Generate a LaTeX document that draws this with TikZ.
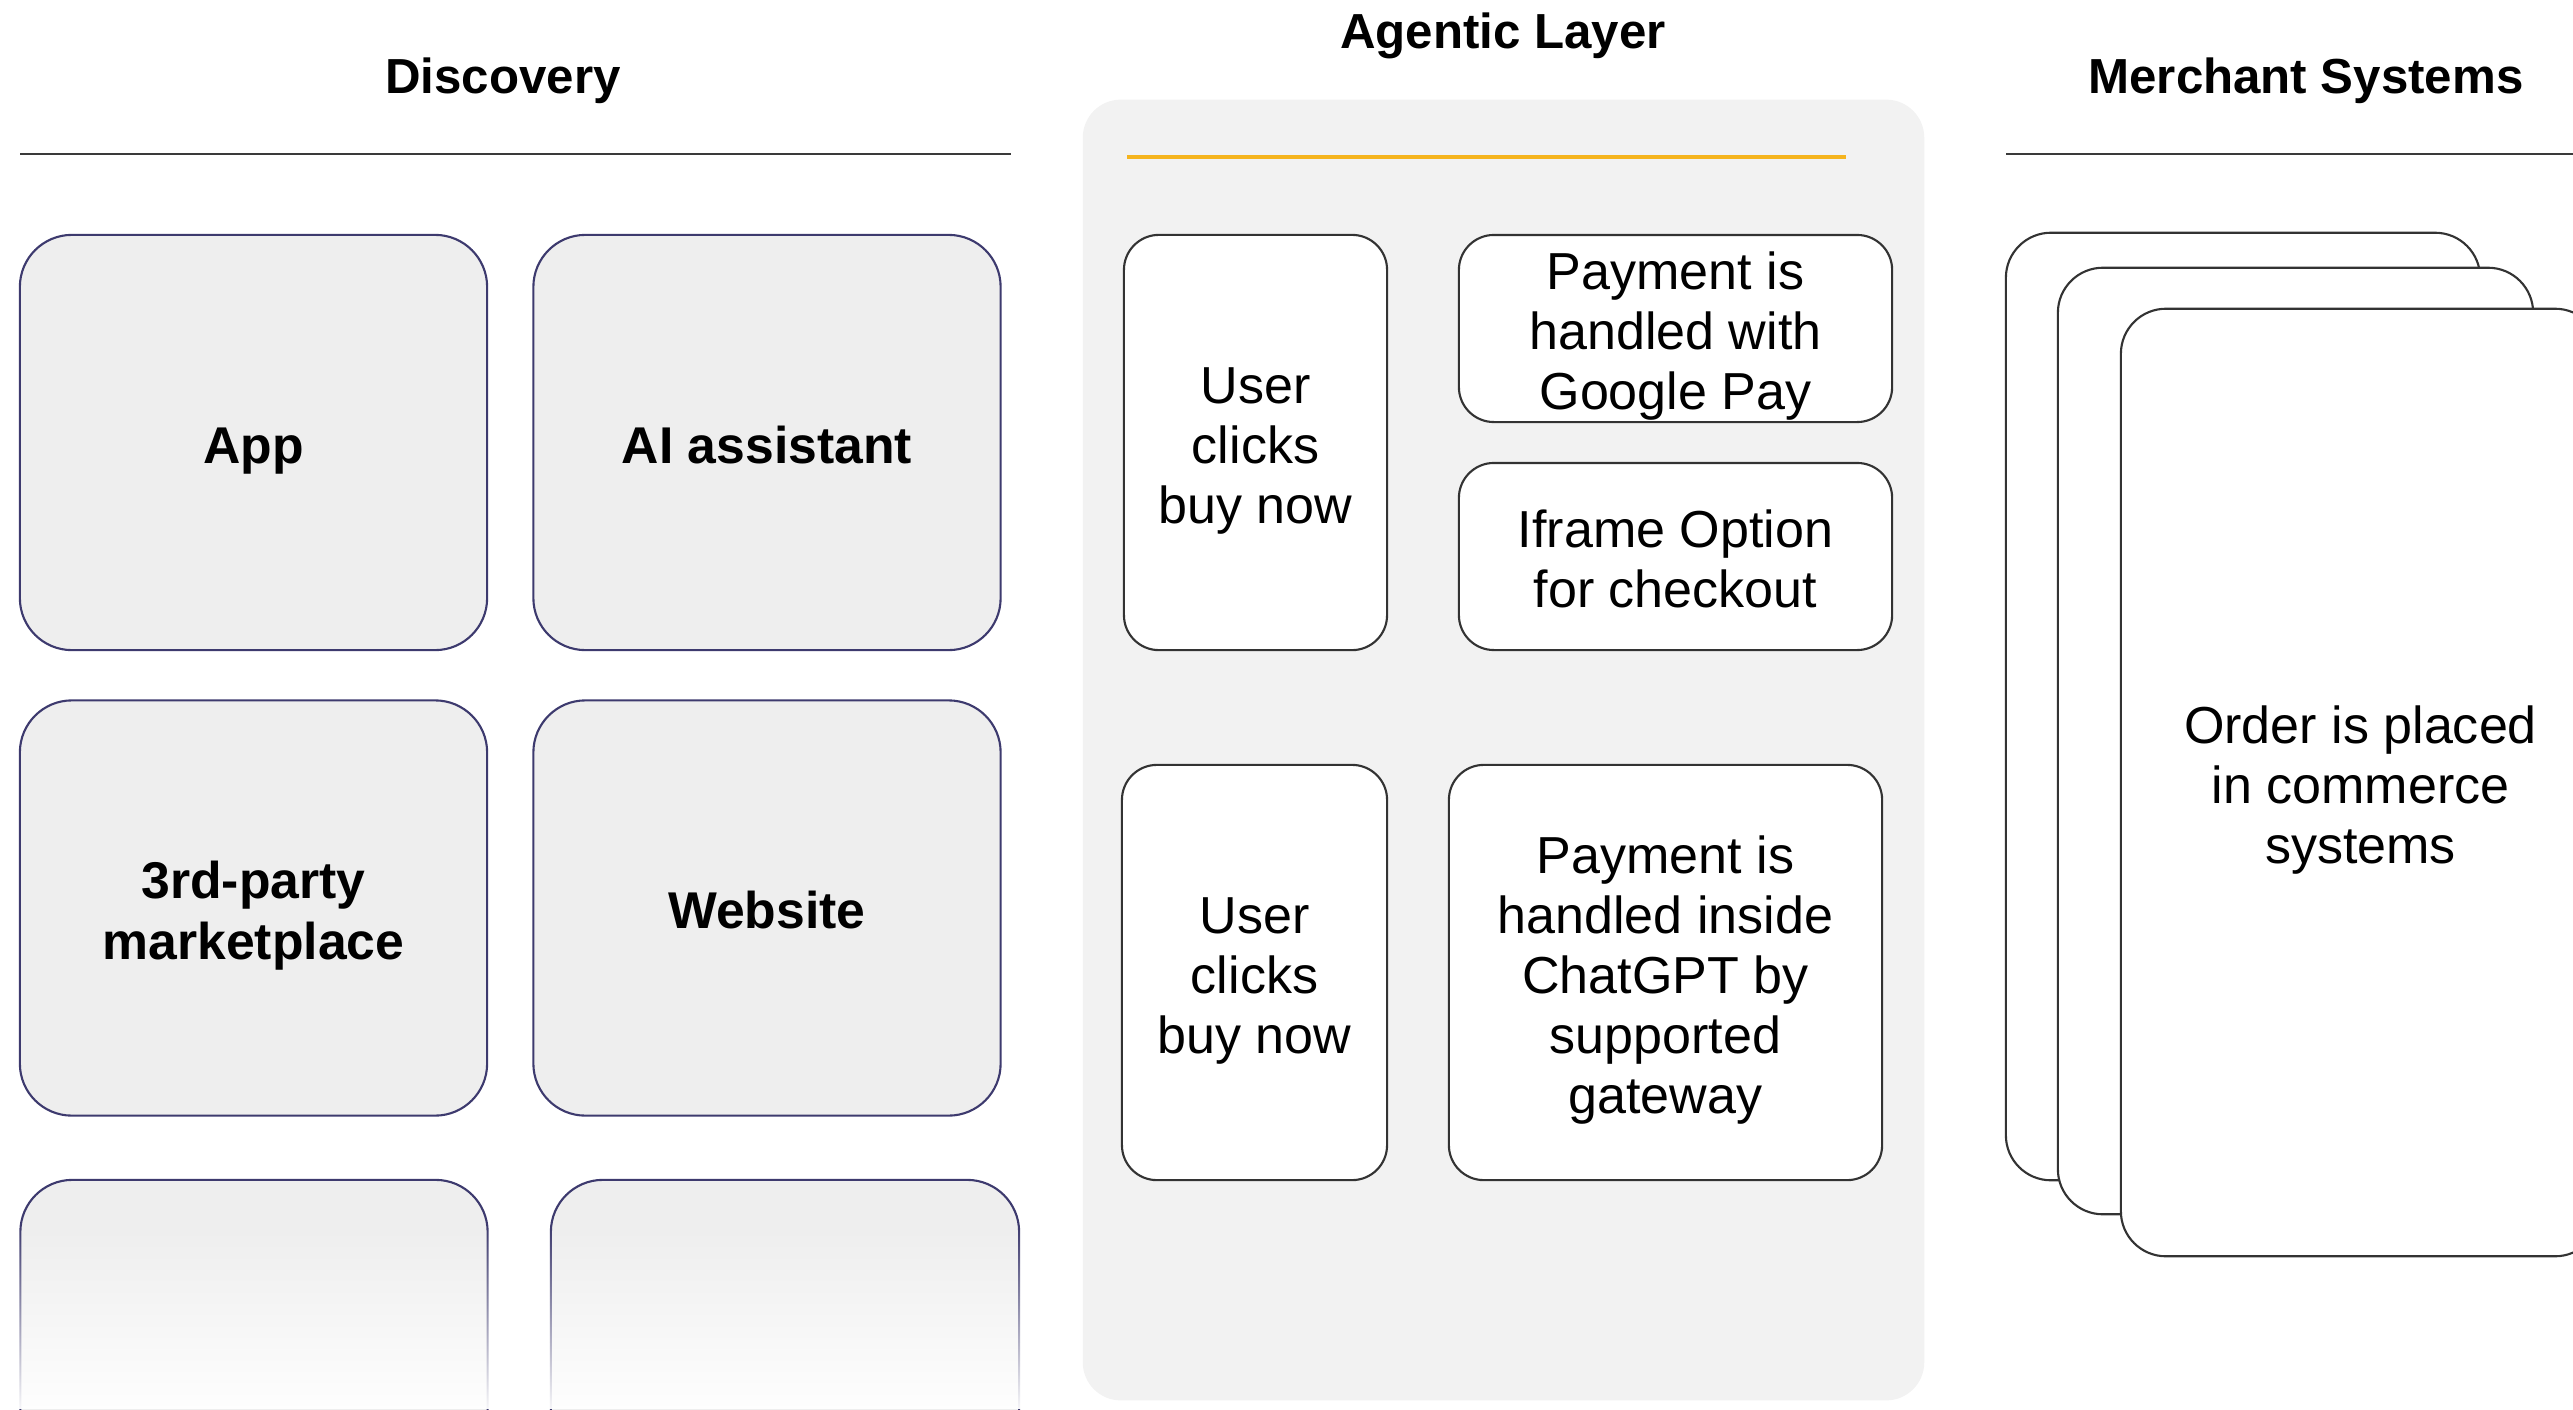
\documentclass[tikz,border=0pt]{standalone}
\usepackage{fontspec}
\setmainfont{Liberation Sans}
\usetikzlibrary{fadings}

\definecolor{discborder}{HTML}{3D3A6E}
\definecolor{discfill}{HTML}{EEEEEE}
\definecolor{panelfill}{HTML}{F2F2F2}
\definecolor{boxborder}{HTML}{333333}
\definecolor{accent}{HTML}{F5B41E}
\definecolor{rulegrey}{HTML}{3A3A3A}

% struts on the first and last line keep every label centred the same way
\newcommand{\ft}{\rule{0pt}{1.03em}}
\newcommand{\lt}{\rule[-0.22em]{0pt}{0pt}}

% white veil that grows opaque towards the bottom edge
\tikzfading[name=fadeup, top color=transparent!100, bottom color=transparent!4]

\begin{document}
\begin{tikzpicture}[x=0.01cm, y=-0.01cm,
  heading/.style={font=\fontsize{14}{17}\selectfont\bfseries, anchor=base, inner sep=0pt},
  rule/.style={draw=rulegrey, line width=0.6pt},
  discbox/.style={draw=discborder, line width=0.6pt, fill=discfill, rounded corners=0.52cm,
    minimum width=4.67cm, minimum height=4.15cm, align=center, inner sep=0pt,
    font=\fontsize{14.7}{17.4}\selectfont\bfseries},
  flowbox/.style={draw=boxborder, line width=0.6pt, fill=white, rounded corners=0.35cm,
    align=center, inner sep=0pt, font=\fontsize{14.8}{17.1}\selectfont},
  stackbox/.style={draw=boxborder, line width=0.6pt, fill=white, rounded corners=0.45cm,
    align=center, inner sep=0pt, font=\fontsize{14.8}{17.1}\selectfont},
]
\useasboundingbox (0,0) rectangle (2573,1409);
\clip (0,0) rectangle (2573,1409);

% ---------- Discovery column ----------
\node[heading] (discT) at (503,93) {Discovery};
\coordinate (discL) at (20,154);
\coordinate (discR) at (1011,154);
\draw[rule] (discL) -- (discR);

\node[discbox] (app)  at (253.5,442.5) {\ft App\lt};
\node[discbox] (ai)   at (767,442.5)   {\ft AI assistant\lt};
\node[discbox] (mkt)  at (253.5,908)   {\ft 3rd-party\\marketplace\lt};
\node[discbox] (web)  at (767,908)     {\ft Website\lt};
\node[discbox, minimum height=5cm] (more1) at (254,1430) {};
\node[discbox, minimum height=5cm, minimum width=4.68cm] (more2) at (785,1430) {};
\fill[white, path fading=fadeup] (0,1225) rectangle (1050,1409);

% ---------- Agentic layer ----------
\node[heading] (agT) at (1503,48) {Agentic Layer};
\node[fill=panelfill, rounded corners=0.38cm, minimum width=8.41cm, minimum height=13cm,
      inner sep=0pt] (panel) at (1503.5,750) {};
\coordinate (accL) at (1127,157);
\coordinate (accR) at (1846,157);
\draw[accent, line width=1pt] (accL) -- (accR);

\node[flowbox, minimum width=2.63cm, minimum height=4.15cm] (buy1) at (1255.5,442.5)
  {\ft User\\clicks\\buy now\lt};
\node[flowbox, minimum width=4.33cm, minimum height=1.87cm] (gpay) at (1675.5,328.5)
  {\ft Payment is\\handled with\\Google Pay\lt};
\node[flowbox, minimum width=4.33cm, minimum height=1.87cm] (iframe) at (1675.5,556.5)
  {\ft Iframe Option\\for checkout\lt};
\node[flowbox, minimum width=2.65cm, minimum height=4.15cm] (buy2) at (1254.5,972.5)
  {\ft User\\clicks\\buy now\lt};
\node[flowbox, minimum width=4.33cm, minimum height=4.15cm] (chat) at (1665.5,972.5)
  {\ft Payment is\\handled inside\\ChatGPT by\\supported\\gateway\lt};

% ---------- Merchant systems ----------
\node[heading] (merT) at (2306,93) {Merchant Systems};
\coordinate (merL) at (2006,154);
\coordinate (merR) at (2573,154);
\draw[rule] (merL) -- (merR);

\node[stackbox, minimum width=4.74cm, minimum height=9.47cm] (sys1) at (2243,706.5) {};
\node[stackbox, minimum width=4.75cm, minimum height=9.46cm] (sys2) at (2295.5,741) {};
\node[stackbox, minimum width=4.79cm, minimum height=9.47cm] (sys3) at (2360.5,782.5)
  {\ft Order is placed\\in commerce\\systems\lt};
\end{tikzpicture}
\end{document}
